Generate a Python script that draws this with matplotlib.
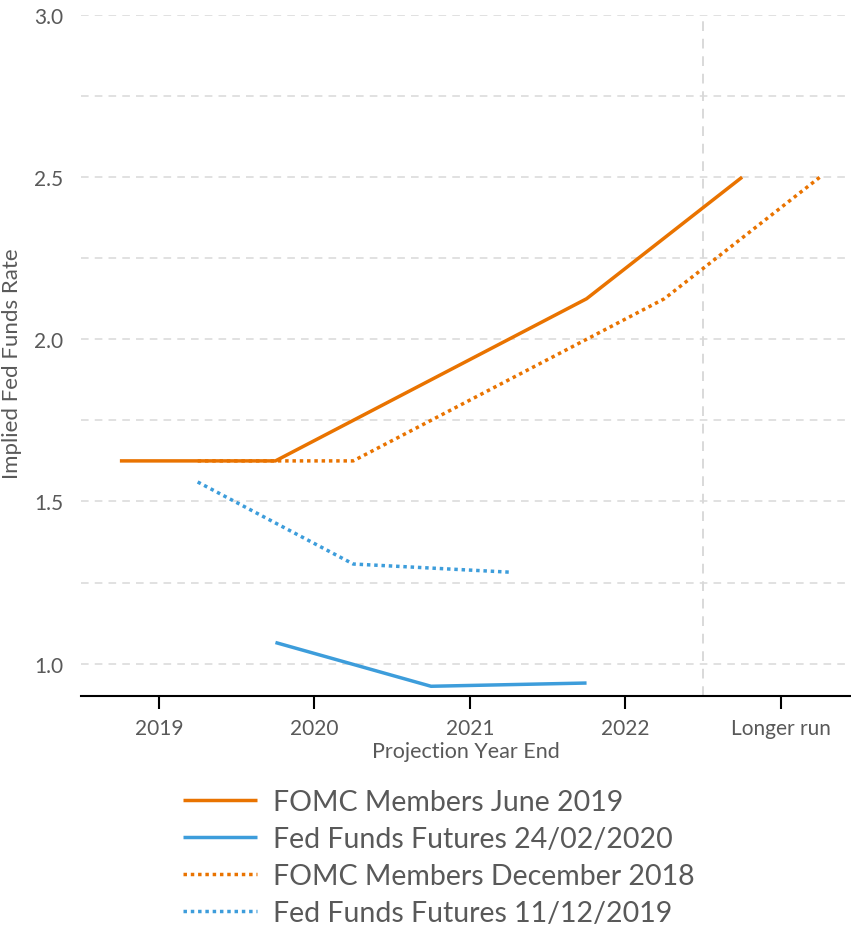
import matplotlib
matplotlib.use("Agg")
import matplotlib.pyplot as plt
import numpy as np

plt.rcParams['font.family'] = ['Lato', 'DejaVu Sans']

categories = ["2019", "2020", "2021", "2022", "Longer run"]

june2019_x = [0, 1, 2, 3, 4]
june2019_y = [1.625, 1.625, 1.875, 2.125, 2.5]

futures_feb2020_x = [1, 2, 3]
futures_feb2020_y = [1.065, 0.93, 0.94]

dec2018_x = [0, 1, 2, 3, 4]
dec2018_y = [1.625, 1.625, 1.875, 2.125, 2.5]

futures_dec2019_x = [0, 1, 2]
futures_dec2019_y = [1.56, 1.307, 1.282]

orange = "#E97300"
blue = "#3D9DDB"
text_c = "#595959"

fig = plt.figure(figsize=(8.51, 9.29), dpi=100)
ax = fig.add_axes([81/851, 1-697/929, 1-81/851, (697-16)/929])

lw = 2.5
ax.plot(np.array(june2019_x) - 0.25, june2019_y, color=orange, lw=lw,
        solid_capstyle='butt', label="FOMC Members June 2019", zorder=4)
ax.plot(np.array(futures_feb2020_x) - 0.25, futures_feb2020_y, color=blue, lw=lw,
        solid_capstyle='butt', label="Fed Funds Futures 24/02/2020", zorder=4)
ax.plot(np.array(dec2018_x) + 0.25, dec2018_y, color=orange, lw=lw,
        linestyle=(0, (1, 1.1)), dash_capstyle='butt',
        label="FOMC Members December 2018", zorder=3)
ax.plot(np.array(futures_dec2019_x) + 0.25, futures_dec2019_y, color=blue, lw=lw,
        linestyle=(0, (1, 1.1)), dash_capstyle='butt',
        label="Fed Funds Futures 11/12/2019", zorder=3)

ax.set_xlim(-0.5, 4.45)
ax.set_ylim(0.9, 3.0)
ax.set_xticks(range(len(categories)))
ax.set_xticklabels(categories)
ax.set_yticks([1.0, 1.5, 2.0, 2.5, 3.0])
ax.set_yticklabels(["1.0", "1.5", "2.0", "2.5", "3.0"])

for v in np.arange(1.0, 3.01, 0.25):
    ax.axhline(v, color="#d9d9d9", lw=1.1, linestyle=(0, (5, 4)), zorder=1)
ax.axvline(3.5, color="#d9d9d9", lw=1.4, linestyle=(0, (5, 4)), zorder=1)

for s in ['left', 'right', 'top']:
    ax.spines[s].set_visible(False)
ax.spines['bottom'].set_color('black')
ax.spines['bottom'].set_linewidth(1.5)
ax.spines['bottom'].set_zorder(5)

ax.tick_params(axis='x', direction='out', length=9, width=1.5, color='black',
               labelsize=15, labelcolor=text_c, pad=7)
ax.tick_params(axis='y', length=0, labelsize=15, labelcolor=text_c, pad=13)

ax.set_xlabel("Projection Year End", fontsize=15.5, color=text_c, labelpad=2)
ax.set_ylabel("Implied Fed Funds Rate", fontsize=16, color=text_c)
ax.yaxis.set_label_coords((22 - 81) / 770, (697 - 364) / 681)

leg = fig.legend(loc='upper left', bbox_to_anchor=(172/851, 1-779/929),
                 frameon=False, fontsize=20.5, handlelength=2.6,
                 handletextpad=0.53, labelspacing=0.38, borderaxespad=0)
for t in leg.get_texts():
    t.set_color(text_c)

fig.savefig("out.png", dpi=100)
